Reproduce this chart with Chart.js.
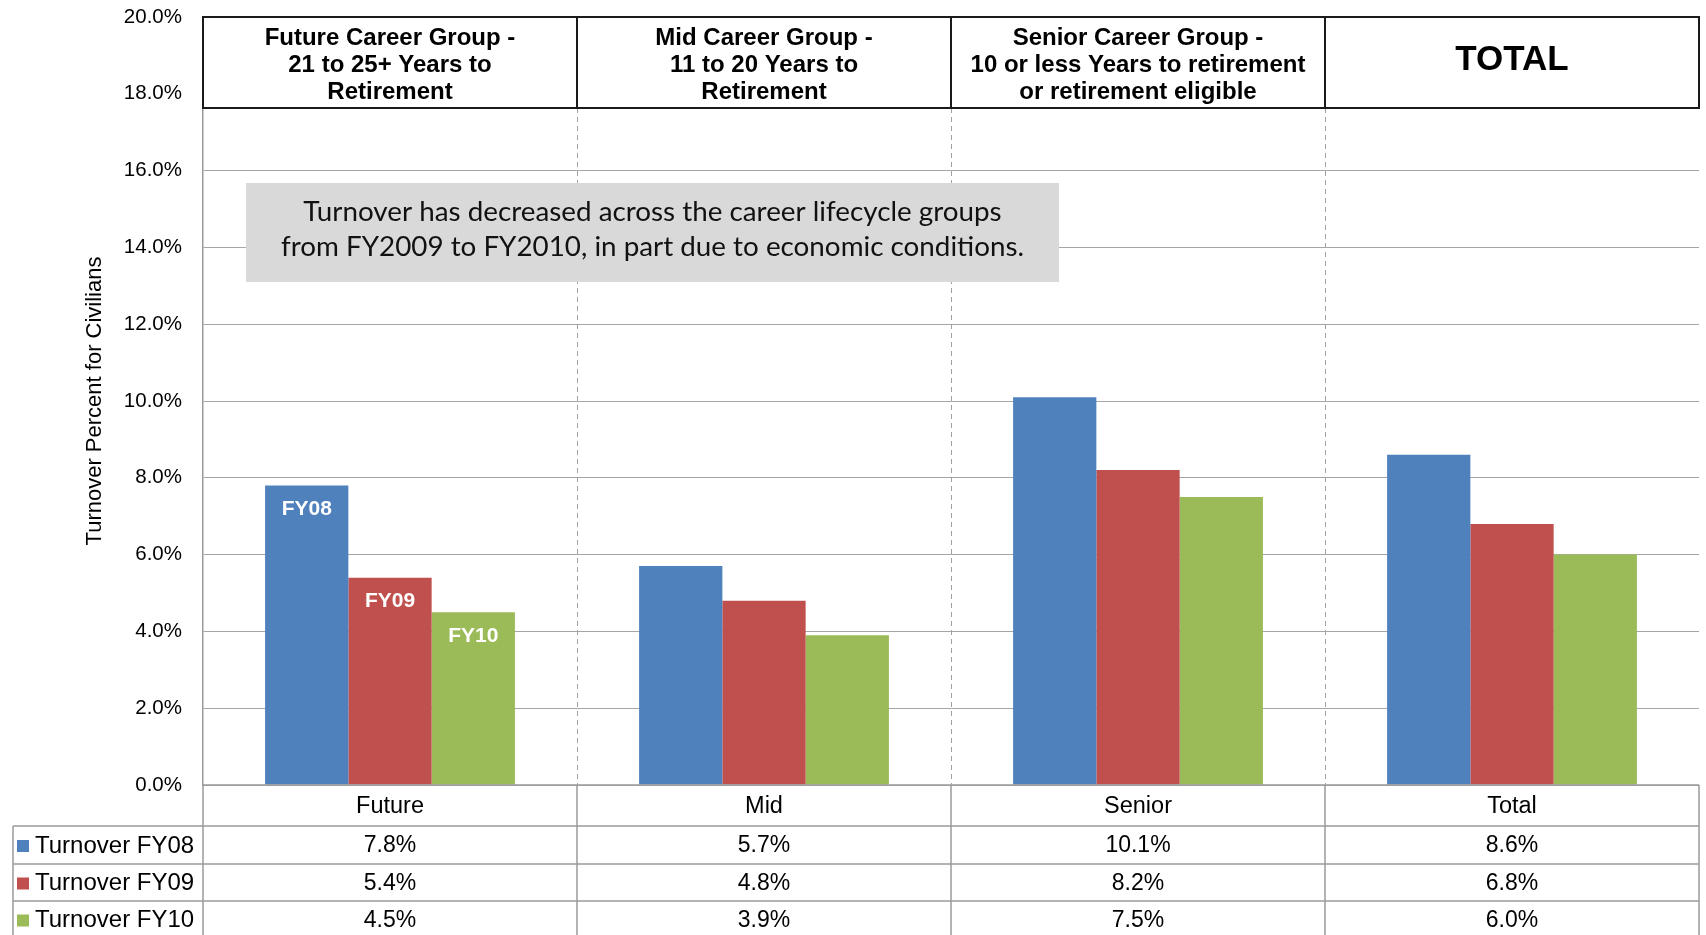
<!DOCTYPE html>
<html><head><meta charset="utf-8">
<script src="https://cdn.jsdelivr.net/npm/chart.js@4.4.1/dist/chart.umd.min.js"></script>
<style>html,body{margin:0;padding:0;background:#fff;}#wrap{width:1706px;height:935px;position:relative;}</style>
</head><body><div id="wrap"><canvas id="c"></canvas></div>
<script>
const categories = ['Future', 'Mid', 'Senior', 'Total'];
const seriesNames = ['Turnover FY08', 'Turnover FY09', 'Turnover FY10'];
const fy08 = [7.8, 5.7, 10.1, 8.6];
const fy09 = [5.4, 4.8, 8.2, 6.8];
const fy10 = [4.5, 3.9, 7.5, 6.0];
const barLabels = ['FY08', 'FY09', 'FY10'];
const headerLabels = [
  ['Future Career Group -', '21 to 25+ Years to', 'Retirement'],
  ['Mid Career Group -', '11 to 20 Years to', 'Retirement'],
  ['Senior Career Group -', '10 or less Years to retirement', 'or retirement eligible'],
  ['TOTAL']
];
const yMin = 0, yMax = 20, yStep = 2;
const yTitle = 'Turnover Percent for Civilians';
const noteLines = ['Turnover has decreased across the career lifecycle groups', 'from FY2009 to FY2010, in part due to economic conditions.'];
const colors = ['#4F81BD', '#C0504D', '#9BBB59'];
const seriesValues = [fy08, fy09, fy10];

const SANS = '"Liberation Sans", Arial, sans-serif';

function line(ctx, x1, y1, x2, y2) { ctx.beginPath(); ctx.moveTo(x1, y1); ctx.lineTo(x2, y2); ctx.stroke(); }

const decorPlugin = {
  id: 'decor',
  beforeDatasetsDraw(chart) {
    const ctx = chart.ctx, ca = chart.chartArea, ys = chart.scales.y;
    const n = categories.length, step = (ca.right - ca.left) / n;
    const hTop = ys.getPixelForValue(yMax), hBot = hTop + 91;
    ctx.save();
    ctx.strokeStyle = '#a0a0a0'; ctx.lineWidth = 1; ctx.setLineDash([5, 4]);
    for (let k = 1; k < n; k++) { const bx = Math.round(ca.left + k * step) + 0.5; line(ctx, bx, hBot, bx, ca.bottom); }
    ctx.setLineDash([]);
    ctx.fillStyle = '#fff'; ctx.fillRect(ca.left, hTop, ca.right - ca.left, hBot - hTop);
    ctx.strokeStyle = '#1a1a1a'; ctx.lineWidth = 2;
    ctx.strokeRect(ca.left, hTop, ca.right - ca.left, hBot - hTop);
    for (let k = 1; k < n; k++) { const bx = Math.round(ca.left + k * step); line(ctx, bx, hTop, bx, hBot); }
    ctx.fillStyle = '#000'; ctx.textAlign = 'center'; ctx.textBaseline = 'middle';
    headerLabels.forEach((lines, i) => {
      const cx = ca.left + (i + 0.5) * step;
      if (lines.length === 1) { ctx.font = 'bold 35px ' + SANS; ctx.fillText(lines[0], cx, (hTop + hBot) / 2 - 2); }
      else {
        ctx.font = 'bold 24px ' + SANS;
        lines.forEach((t, j) => ctx.fillText(t, cx, hTop + 21 + j * 27));
      }
    });
    ctx.restore();
  },
  afterDatasetsDraw(chart) {
    const ctx = chart.ctx, ca = chart.chartArea;
    ctx.save();
    const bx = ca.left + 43, by = 183, bw = 813, bh = 99;
    ctx.fillStyle = '#D9D9D9'; ctx.fillRect(bx, by, bw, bh);
    ctx.fillStyle = '#111'; ctx.textAlign = 'center'; ctx.textBaseline = 'middle';
    ctx.font = '25px Lato, "Open Sans", sans-serif';
    let w = ctx.measureText(noteLines[1]).width;
    const fs = 25 * 742 / w;
    ctx.font = fs.toFixed(1) + 'px Lato, "Open Sans", sans-serif';
    noteLines.forEach((t, j) => ctx.fillText(t, bx + bw / 2, 212 + j * 35));
    ctx.fillStyle = '#fff'; ctx.font = 'bold 21px ' + SANS;
    chart.data.datasets.forEach((ds, d) => {
      const el = chart.getDatasetMeta(d).data[0];
      ctx.fillText(barLabels[d], el.x, el.y + 24);
    });
    ctx.restore();
  },
  afterDraw(chart) {
    const ctx = chart.ctx, ca = chart.chartArea, xs = chart.scales.x;
    const n = categories.length, step = (ca.right - ca.left) / n;
    const rows = [ca.bottom, ca.bottom + 41, ca.bottom + 79, ca.bottom + 116, ca.bottom + 153];
    const tableLeft = 13;
    ctx.save();
    ctx.strokeStyle = '#9a9a9a'; ctx.lineWidth = 1.5;
    line(ctx, ca.left, rows[0], ca.right, rows[0]);
    for (let i = 1; i < rows.length; i++) line(ctx, tableLeft, rows[i], ca.right, rows[i]);
    line(ctx, tableLeft, rows[1], tableLeft, rows[4]);
    line(ctx, ca.left, rows[0], ca.left, rows[4]);
    for (let k = 1; k <= n; k++) { const bx = Math.round(ca.left + k * step); line(ctx, bx, rows[0], bx, rows[4]); }
    ctx.fillStyle = '#000'; ctx.textBaseline = 'middle';
    ctx.font = '23.5px ' + SANS; ctx.textAlign = 'center';
    categories.forEach((c, i) => ctx.fillText(c, xs.getPixelForValue(i), (rows[0] + rows[1]) / 2 + 1));
    seriesValues.forEach((vals, s) => {
      const cy = (rows[s + 1] + rows[s + 2]) / 2 + 1;
      ctx.textAlign = 'center'; ctx.fillStyle = '#000'; ctx.font = '23px ' + SANS;
      vals.forEach((v, i) => ctx.fillText(v.toFixed(1) + '%', xs.getPixelForValue(i), cy));
      ctx.fillStyle = colors[s]; ctx.fillRect(17, cy - 6, 12, 12);
      ctx.fillStyle = '#000'; ctx.textAlign = 'left'; ctx.font = '24px ' + SANS;
      ctx.fillText(seriesNames[s], 35, cy);
    });
    ctx.restore();
  }
};

new Chart(document.getElementById('c'), {
  type: 'bar',
  data: {
    labels: categories,
    datasets: seriesNames.map((s, i) => ({
      label: s, data: seriesValues[i], backgroundColor: colors[i], borderWidth: 0,
      categoryPercentage: 0.668, barPercentage: 1.0
    }))
  },
  options: {
    responsive: true, maintainAspectRatio: false, animation: false,
    layout: { padding: { left: 0, right: 7, top: 17, bottom: 150 } },
    plugins: { legend: { display: false }, tooltip: { enabled: false } },
    scales: {
      x: { display: false },
      y: {
        min: yMin, max: yMax,
        ticks: { stepSize: yStep, padding: 21, color: '#000', font: { family: SANS, size: 20.5 },
          callback: v => v.toFixed(1) + '%' },
        grid: { color: '#a6a6a6', lineWidth: 1, drawTicks: false },
        border: { display: true, color: '#9a9a9a', width: 1.5 },
        title: { display: true, text: yTitle, color: '#000', font: { family: SANS, size: 22 }, padding: { top: 82 } },
        afterFit(scale) { scale.width = 203; scale.paddingTop = 0; scale.paddingBottom = 0; }
      }
    }
  },
  plugins: [decorPlugin]
});
</script>
</body></html>
